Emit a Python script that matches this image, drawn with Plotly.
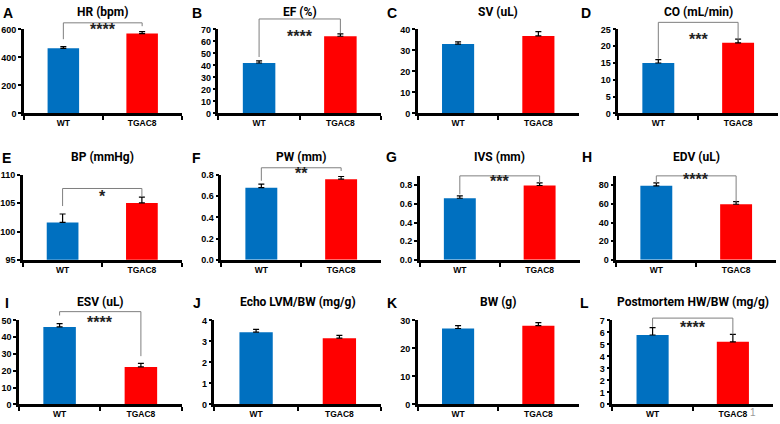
import plotly.graph_objects as go

W, H = 780, 424

categories = ["WT", "TGAC8"]
letters = list("ABCDEFGHIJKL")
titles = ["HR (bpm)", "EF (%)", "SV (uL)", "CO (mL/min)", "BP (mmHg)", "PW (mm)",
          "IVS (mm)", "EDV (uL)", "ESV (uL)", "Echo LVM/BW (mg/g)", "BW (g)",
          "Postmortem HW/BW (mg/g)"]
wt_mean = [465, 42, 33, 15, 101.6, 0.68, 0.66, 79.3, 46.1, 3.44, 27.1, 5.78]
wt_err = [12, 1.7, 1.1, 1.0, 1.5, 0.034, 0.025, 3.1, 2.0, 0.13, 1.0, 0.62]
tg_mean = [570, 64.3, 36.9, 21.0, 105.06, 0.76, 0.797, 59.6, 22.3, 3.15, 28.1, 5.21]
tg_err = [14, 1.9, 2.0, 1.1, 1.0, 0.025, 0.027, 2.7, 2.1, 0.14, 1.1, 0.62]
y_ranges = [[0, 600], [0, 70], [0, 40], [0, 25], [95, 110], [0, 0.8], [0, 0.9],
            [0, 90], [0, 50], [0, 4], [0, 30], [0, 7]]
y_dticks = [200, 10, 10, 5, 5, 0.2, 0.2, 20, 10, 1, 10, 1]
y_formats = ["", "", "", "", "", ".1f", ".1f", "", "", "", "", ""]
sig = ["****", "****", "", "***", "*", "**", "***", "****", "****", "", "", "****"]
bracket_top = [647, 78.7, None, 27.1, 107.6, 0.867, 0.90, 90, 55.2, None, None, 7.19]
bracket_left = [530, 47, None, 16.3, 104.5, 0.745, 0.703, 82.4, 52.9, None, None, 6.46]
bracket_right = [623, 67, None, 21.6, 106.1, 0.837, 0.824, 62.3, 28.7, None, None, 5.83]
star_y = [600, 64, None, 22, 106.1, 0.815, 0.84, 86.6, 49, None, None, 6.4]

# layout (pixels): plot area boxes (left, right, top, bottom)
boxes = [
    (22, 180, 25, 111), (217, 380, 25, 111), (417, 578, 25, 111), (618, 778, 25, 111),
    (21, 180, 174, 261), (220, 380, 174, 261), (419, 579, 175, 261), (616, 776, 175, 261),
    (17, 180, 323, 409), (213, 380, 323, 409), (417, 578, 323, 409), (612, 773, 323, 409),
]
letter_pos = [(6, 8), (195, 8), (391, 8), (585, 8),
              (5, 157), (195, 157), (391, 156), (587, 156),
              (5, 305), (195, 305), (391, 305), (584, 305)]
title_y = [7, 7, 7, 7, 156, 156, 156, 156, 304, 304, 304, 304]

BLUE = "#0070C0"
RED = "#FF0000"
TICKFONT = dict(family="Liberation Sans, Arial", size=9, color="black", weight="bold")
TITLEFONT = dict(family="Roboto", size=12, color="black", weight="bold")

fig = go.Figure()
annotations = []
shapes = []
layout_axes = {}

for i in range(12):
    k = i + 1
    xs = "" if k == 1 else str(k)
    x0, x1, y0, y1 = boxes[i]
    fig.add_trace(go.Bar(
        x=categories, y=[wt_mean[i], tg_mean[i]],
        marker=dict(color=[BLUE, RED], line=dict(width=0)),
        width=0.4,
        error_y=dict(type="data", array=[wt_err[i], tg_err[i]], arrayminus=[0, 0],
                     symmetric=False, color="black", thickness=1.2, width=3),
        xaxis="x" + xs, yaxis="y" + xs, showlegend=False,
    ))
    layout_axes["xaxis" + xs] = dict(
        domain=[x0 / W, x1 / W], anchor="y" + xs, range=[-0.5, 1.5],
        type="category", showline=True, linecolor="black", linewidth=2.5,
        ticks="outside", tickson="boundaries", ticklen=4, tickwidth=1.5,
        tickcolor="black", showgrid=False, zeroline=False,
        tickfont=dict(family="Liberation Sans, Arial", size=8.5, color="black", weight="bold"),
        fixedrange=True,
    )
    ya = dict(
        domain=[1 - y1 / H, 1 - y0 / H], anchor="x" + xs, range=y_ranges[i],
        showline=True, linecolor="black", linewidth=2.5,
        ticks="outside", ticklen=3, tickwidth=1.5, tickcolor="black",
        showgrid=False, zeroline=False, tick0=y_ranges[i][0], dtick=y_dticks[i],
        tickfont=TICKFONT, fixedrange=True,
    )
    if y_formats[i]:
        ya["tickformat"] = y_formats[i]
    layout_axes["yaxis" + xs] = ya

    # title
    annotations.append(dict(
        text=titles[i], xref="paper", yref="paper",
        x=(x0 + x1) / 2 / W, y=1 - title_y[i] / H, xanchor="center", yanchor="middle",
        showarrow=False, font=TITLEFONT,
    ))
    # letter
    lx, ly = letter_pos[i]
    annotations.append(dict(
        text=letters[i], xref="paper", yref="paper", x=lx / W, y=1 - ly / H,
        xanchor="center", yanchor="middle", showarrow=False,
        font=dict(family="Liberation Sans, Arial", size=14, color="black", weight="bold"),
    ))
    # significance bracket (data values mapped through the panel's linear scales)
    if sig[i]:
        r0, r1 = y_ranges[i]
        dom_x0, dom_x1 = x0 / W, x1 / W
        dom_y0, dom_y1 = 1 - y1 / H, 1 - y0 / H

        def py(v, r0=r0, r1=r1, a=dom_y0, b=dom_y1):
            return a + (v - r0) / (r1 - r0) * (b - a)

        def px(c, a=dom_x0, b=dom_x1):
            return a + (c + 0.5) / 2.0 * (b - a)

        path = "M {a:.5f},{b:.5f} L {a:.5f},{c:.5f} L {d:.5f},{c:.5f} L {d:.5f},{e:.5f}".format(
            a=px(0), b=py(bracket_left[i]), c=py(bracket_top[i]), d=px(1),
            e=py(bracket_right[i]))
        shapes.append(dict(type="path", path=path, xref="paper", yref="paper",
                           line=dict(color="#7f7f7f", width=1)))
        annotations.append(dict(
            text=sig[i], xref="paper", yref="paper", x=px(0.5), y=py(star_y[i]),
            xanchor="center", yanchor="middle", showarrow=False,
            font=dict(family="Liberation Sans, Arial", size=16, color="#222222", weight="bold"),
        ))

annotations.append(dict(text="1", xref="paper", yref="paper", x=753 / W, y=1 - 417 / H,
                        xanchor="center", yanchor="middle", showarrow=False,
                        font=dict(family="Liberation Sans, Arial", size=10, color="#999999")))

fig.update_layout(
    width=W, height=H, margin=dict(l=0, r=0, t=0, b=0),
    paper_bgcolor="white", plot_bgcolor="white",
    annotations=annotations, shapes=shapes, bargap=0.2,
    **layout_axes,
)

fig.write_html("out.html", config={"displayModeBar": False},
               post_script="document.body.style.margin='0';")
